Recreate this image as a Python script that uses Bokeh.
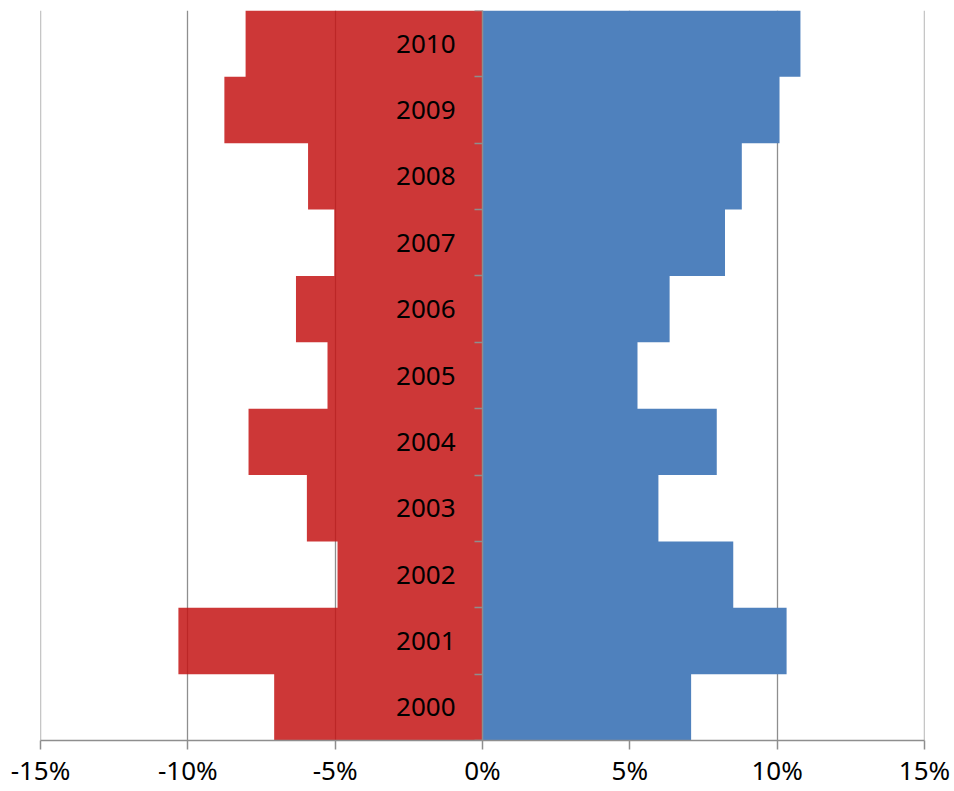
from bokeh.plotting import figure
from bokeh.models import Range1d, FixedTicker, PrintfTickFormatter, ColumnDataSource, Span
from bokeh.core.properties import value
from bokeh.embed import file_html
from bokeh.resources import INLINE

years = ["2000", "2001", "2002", "2003", "2004", "2005", "2006", "2007", "2008", "2009", "2010"]
negative = [-7.07, -10.32, -4.92, -5.96, -7.94, -5.26, -6.33, -5.03, -5.92, -8.76, -8.04]
positive = [7.08, 10.32, 8.51, 5.97, 7.95, 5.26, 6.35, 8.23, 8.80, 10.08, 10.79]
x_ticks = [-15, -10, -5, 0, 5, 10, 15]

FONT = "Noto Sans"
GRID = "#8E8E8E"
n = len(years)
idx = list(range(n))

# step areas: one polygon per series (no seams between rows)
step_src = ColumnDataSource(dict(
    y=list(range(n + 1)),
    neg=negative + [negative[-1]],
    pos=positive + [positive[-1]],
    zero=[0] * (n + 1),
))
lab_src = ColumnDataSource(dict(y=[i + 0.5 for i in idx], year=years))

p = figure(width=954, height=791, output_backend="svg", toolbar_location=None,
           x_range=Range1d(x_ticks[0], x_ticks[-1]), y_range=Range1d(0, n),
           min_border_left=40, min_border_right=30, min_border_top=10, min_border_bottom=51)
p.outline_line_color = None
p.background_fill_color = "white"

p.harea_step(x1="neg", x2="zero", y="y", step_mode="after", source=step_src,
             fill_color="#C41414", fill_alpha=0.85)
p.harea_step(x1="zero", x2="pos", y="y", step_mode="after", source=step_src,
             fill_color="#4F81BD", fill_alpha=1.0)

p.text(x=0, y="y", text="year", source=lab_src, x_offset=-27, y_offset=0,
       text_align="right", text_baseline="middle",
       text_font=value(FONT), text_font_size="26px", text_color="black")

# x axis
p.xaxis.ticker = FixedTicker(ticks=x_ticks)
p.xaxis.formatter = PrintfTickFormatter(format="%d%%")
p.xaxis.axis_line_color = GRID
p.xaxis.axis_line_width = 1.5
p.xaxis.major_tick_line_color = GRID
p.xaxis.major_tick_line_width = 1.5
p.xaxis.major_tick_out = 9
p.xaxis.major_tick_in = 0
p.xaxis.minor_tick_line_color = None
p.xaxis.major_label_text_font = FONT
p.xaxis.major_label_text_font_size = "26px"
p.xaxis.major_label_text_color = "black"
p.xaxis.major_label_standoff = 2

# vertical axis at zero
p.yaxis.fixed_location = 0
p.yaxis.ticker = FixedTicker(ticks=list(range(n + 1)))
p.yaxis.axis_line_color = GRID
p.yaxis.axis_line_width = 1.5
p.yaxis.major_tick_line_color = GRID
p.yaxis.major_tick_line_width = 1.5
p.yaxis.major_tick_out = 8
p.yaxis.major_tick_in = 0
p.yaxis.minor_tick_line_color = None
p.yaxis.major_label_text_font_size = "0px"
p.yaxis.major_label_text_alpha = 0

# grid
p.xgrid.ticker = FixedTicker(ticks=x_ticks)
p.xgrid.grid_line_color = GRID
p.xgrid.grid_line_width = 1.3
p.ygrid.grid_line_color = None
for t in (x_ticks[0], x_ticks[-1]):
    p.add_layout(Span(location=t, dimension="height", line_color=GRID,
                      line_width=1.3, level="underlay"))

open("out.html", "w").write(file_html(p, INLINE))
